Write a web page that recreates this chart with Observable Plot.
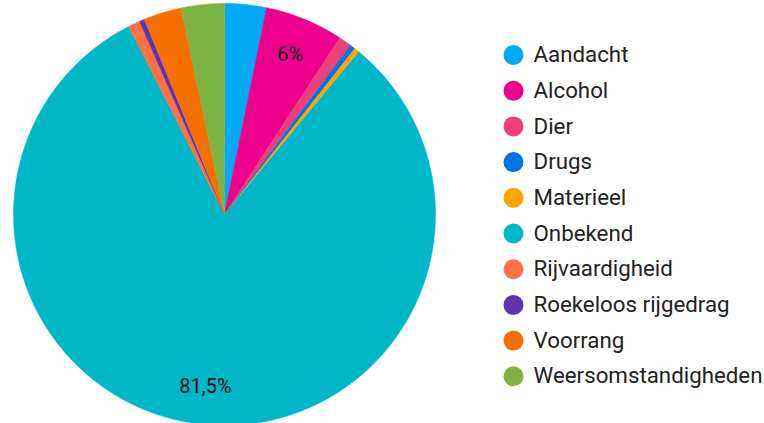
<!DOCTYPE html>
<html><head><meta charset="utf-8">
<script src="https://cdn.jsdelivr.net/npm/d3@7"></script>
<script src="https://cdn.jsdelivr.net/npm/@observablehq/plot@0.6"></script>
<style>
html,body{margin:0;padding:0;background:#fff;}
svg{display:block;font-family:Roboto,"Noto Sans",sans-serif;}
</style>
</head><body>
<div id="chart"></div>
<script>
const categories = ["Aandacht","Alcohol","Dier","Drugs","Materieel","Onbekend","Rijvaardigheid","Roekeloos rijgedrag","Voorrang","Weersomstandigheden"];
const percentages = [3.2, 6.0, 1.0, 0.4, 0.4, 81.5, 0.9, 0.4, 2.9, 3.3];
const colors = ["#03a9f4","#ec008c","#ec407a","#0073e6","#ffa400","#00b6c9","#ff7043","#5e35b1","#f57000","#7cb342"];

const W = 764, H = 423;
const cx = 224, cy = 214, R = 211;

const data = categories.map((c, i) => ({category: c, value: percentages[i]}));
const arcs = d3.pie().sort(null).value(d => d.value)(data);

// polygon points for each slice
const pts = [];
arcs.forEach(a => {
  const c = a.data.category;
  pts.push({category: c, x: cx, y: cy});
  const n = Math.max(2, Math.ceil((a.endAngle - a.startAngle) / 0.005));
  for (let k = 0; k <= n; k++) {
    const t = a.startAngle + (a.endAngle - a.startAngle) * k / n;
    pts.push({category: c, x: cx + R * Math.sin(t), y: cy - R * Math.cos(t)});
  }
  pts.push({category: c, x: cx, y: cy});
});

const labels = arcs.filter(a => a.data.value >= 5).map(a => {
  const m = (a.startAngle + a.endAngle) / 2;
  const r = R * 0.82;
  return {x: cx + r * Math.sin(m), y: cy - r * Math.cos(m),
          text: String(a.data.value).replace(".", ",") + "%"};
});

const legendX = 513, legendY0 = 54.5, legendStep = 35.7;
const legend = categories.map((c, i) => ({category: c, x: legendX, y: legendY0 + i * legendStep}));

const chart = Plot.plot({
  width: W, height: H,
  margin: 0,
  x: {domain: [0, W], range: [0, W], axis: null},
  y: {domain: [0, H], range: [0, H], axis: null},
  color: {domain: categories, range: colors},
  marks: [
    Plot.line(pts, {x: "x", y: "y", z: "category", fill: "category", stroke: "category", strokeWidth: 0.5, curve: "linear-closed"}),
    Plot.text(labels, {x: "x", y: "y", text: "text", fontSize: 20, fill: "#111", fontFamily: "Roboto"}),
    Plot.dot(legend, {x: "x", y: "y", r: 10, fill: "category", stroke: null}),
    Plot.text(legend, {x: d => d.x + 20, y: "y", text: "category", textAnchor: "start", fontSize: 22.3, fill: "#222", fontFamily: "Roboto"})
  ]
});
document.getElementById("chart").appendChild(chart);
</script>
</body></html>
